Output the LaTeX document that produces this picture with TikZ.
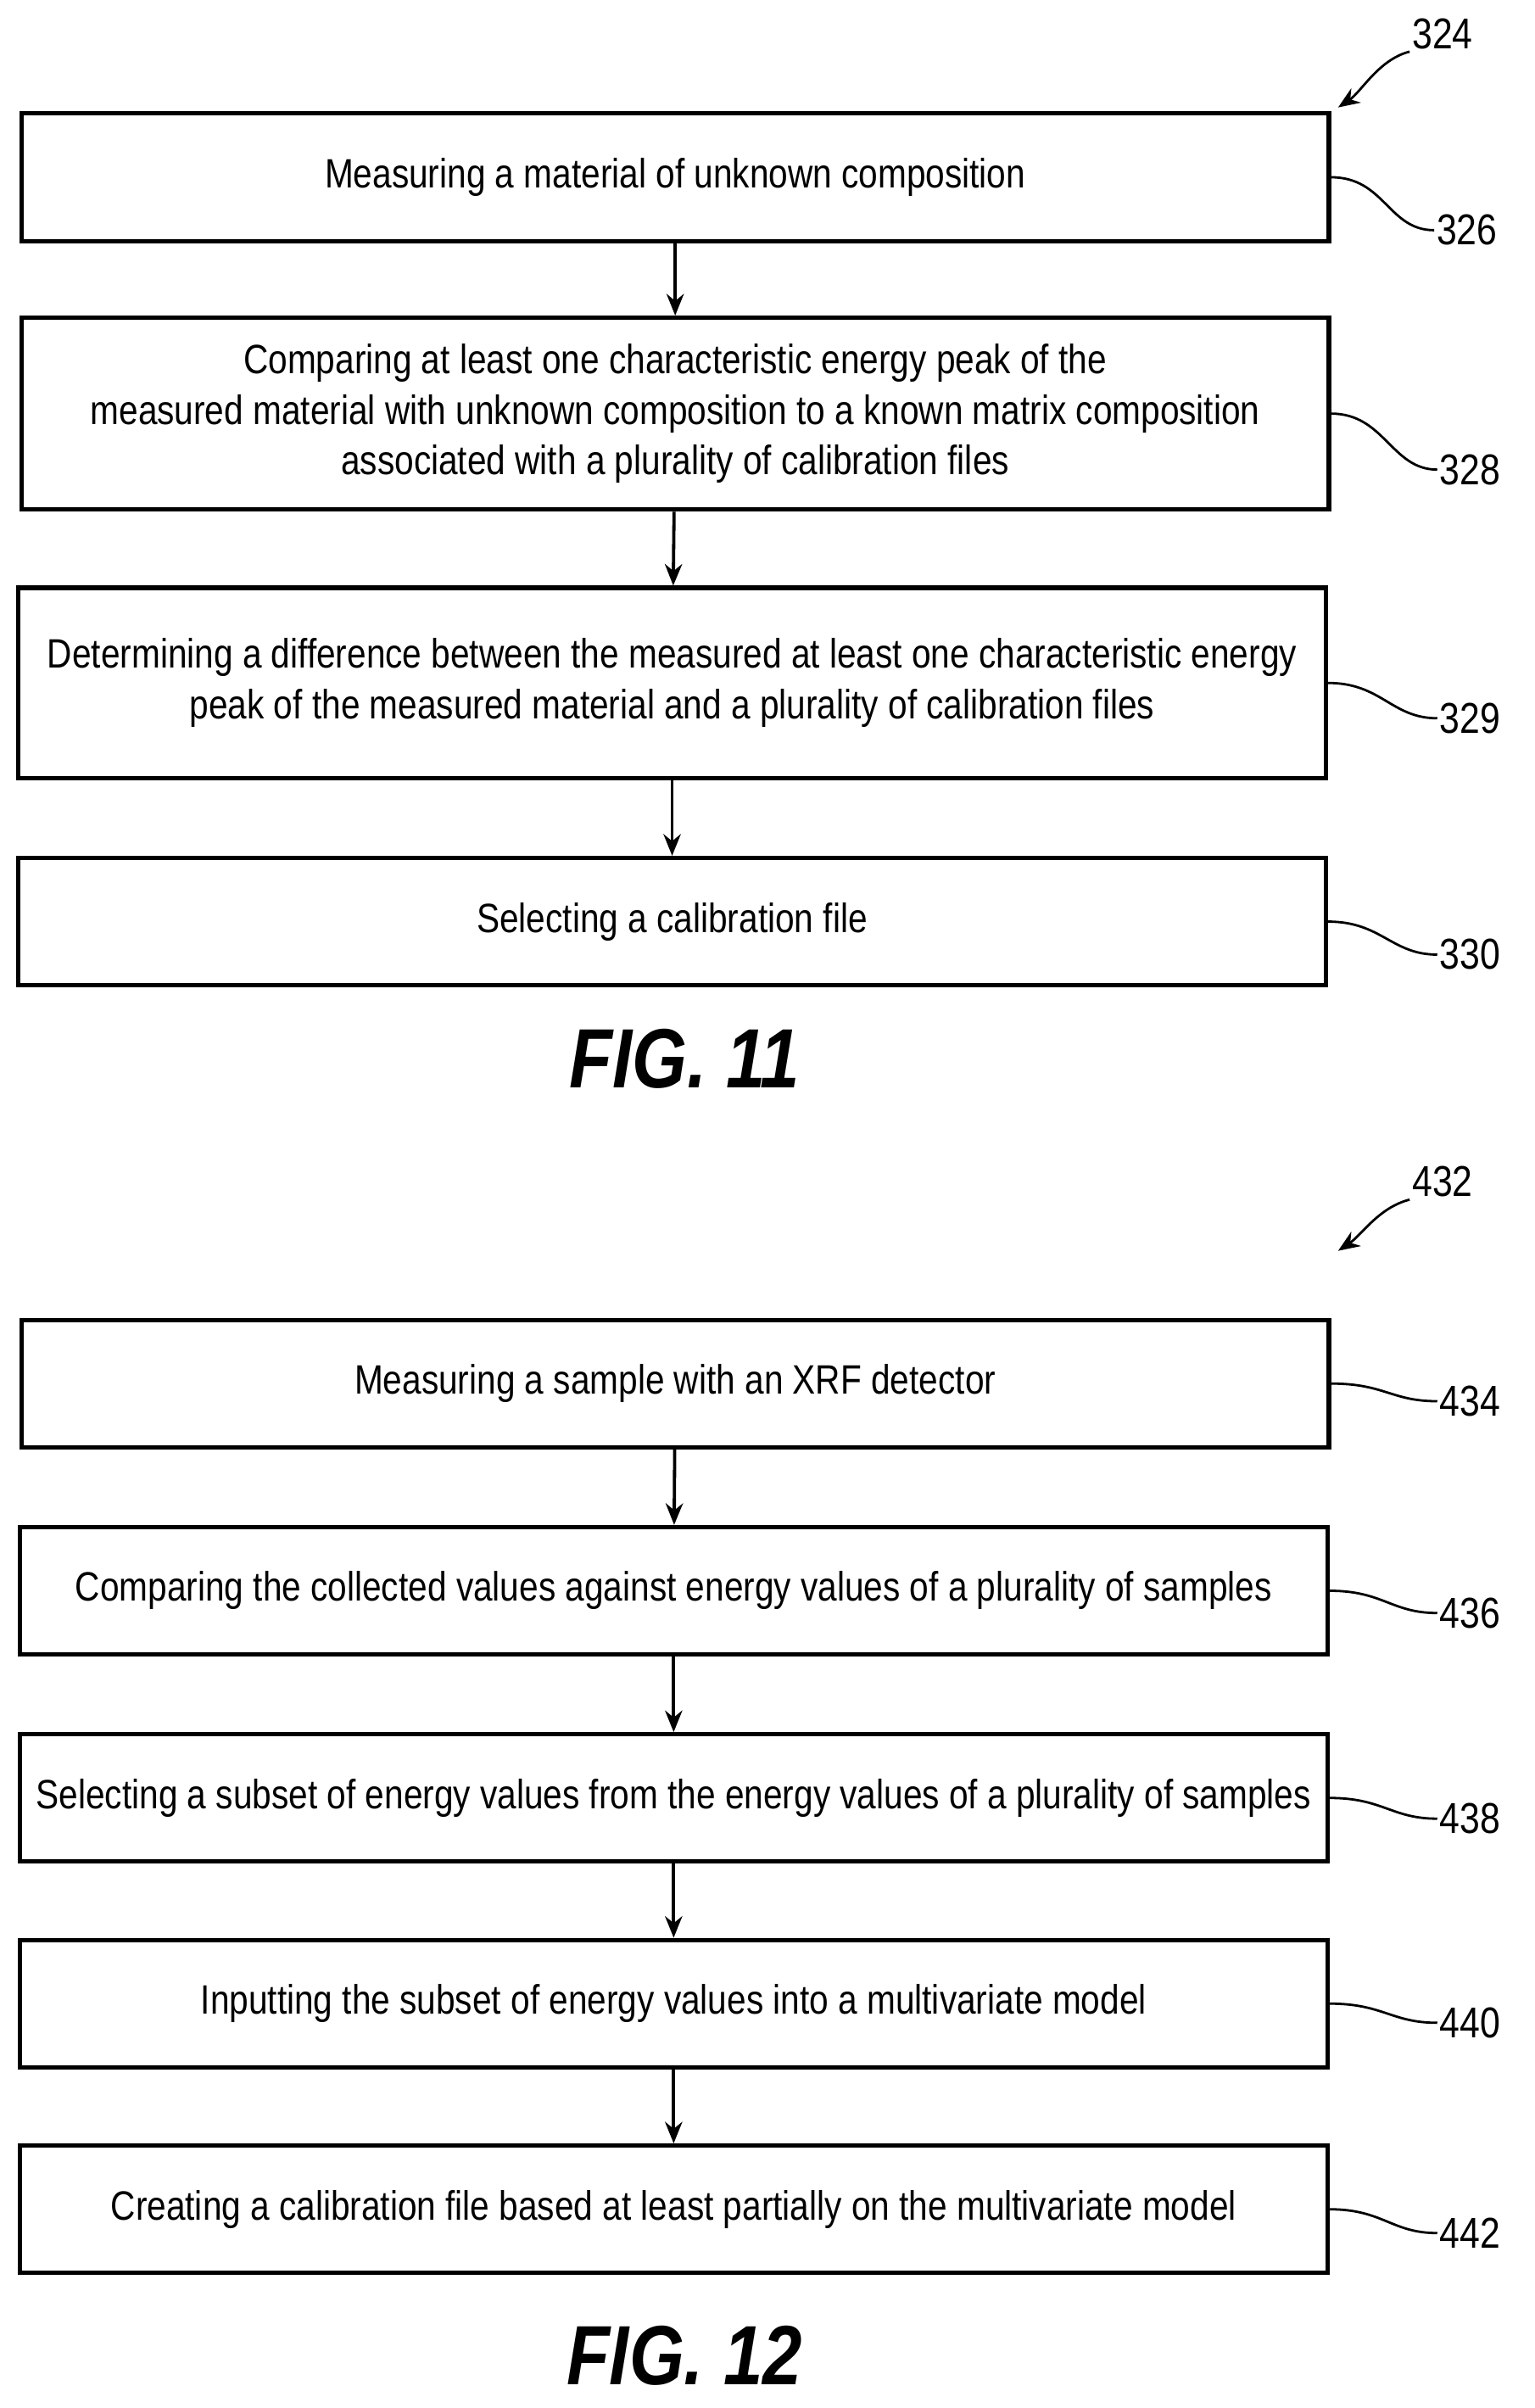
\documentclass[tikz,border=0pt]{standalone}
\usepackage{fontspec}
\setmainfont{Liberation Sans}[FakeStretch=0.84]
\usetikzlibrary{arrows.meta}
\begin{document}
\begin{tikzpicture}[x=0.025cm,y=-0.025cm,
    stage/.style={draw,line width=2pt,minimum width=852*0.025cm,inner sep=0pt,align=center,font=\fontsize{19}{23.5}\selectfont},
    num/.style={inner sep=1pt,font=\fontsize{20}{22}\selectfont},
    fig/.style={font=\fontsize{39}{44}\selectfont\itshape\bfseries},
    lead/.style={line width=1.1pt},
    flow/.style={line width=1.5pt,-{Stealth[length=10pt,width=8pt]}}]
\useasboundingbox (0,0) rectangle (1000,1569);
% FIG. 11
\node (b1) at (440,115.5) [stage,minimum height=83*0.025cm] {Measuring a material of unknown composition};
\node (b2) at (440,269.5) [stage,minimum height=125*0.025cm] {Comparing at least one characteristic energy peak of the\\measured material with unknown composition to a known matrix composition\\associated with a plurality of calibration files};
\node (b3) at (438,445) [stage,minimum height=124*0.025cm] {Determining a difference between the measured at least one characteristic energy\\peak of the measured material and a plurality of calibration files};
\node (b4) at (438,600.5) [stage,minimum height=83*0.025cm] {Selecting a calibration file};
\node (f11) at (446,690) [fig] {FIG. 11};
\node (n324) at (940,22) [num] {324};
\node (n326) at (956,150) [num] {326};
\node (n328) at (958,306) [num] {328};
\node (n329) at (958,468) [num] {329};
\node (n330) at (958,622) [num] {330};
\draw [flow] (b1) -- (b2);
\draw [flow] (b2) -- (b3);
\draw [flow] (b3) -- (b4);
\draw [lead] (b1.east) .. controls +(35,0) and +(-30,0) .. (n326.west);
\draw [lead] (b2.east) .. controls +(35,0) and +(-30,0) .. (n328.west);
\draw [lead] (b3.east) .. controls +(35,0) and +(-30,0) .. (n329.west);
\draw [lead] (b4.east) .. controls +(35,0) and +(-30,0) .. (n330.west);
\coordinate (t324) at (872,70);
\draw [lead,-{Stealth[length=10pt,width=8pt]}] (n324.south west) .. controls +(-20,5) and +(15,-10) .. (t324);
% FIG. 12
\node (c1) at (440,901.5) [stage,minimum height=83*0.025cm] {Measuring a sample with an XRF detector};
\node (c2) at (439,1036.5) [stage,minimum height=83*0.025cm] {Comparing the collected values against energy values of a plurality of samples};
\node (c3) at (439,1171.5) [stage,minimum height=83*0.025cm] {Selecting a subset of energy values from the energy values of a plurality of samples};
\node (c4) at (439,1305.5) [stage,minimum height=83*0.025cm] {Inputting the subset of energy values into a multivariate model};
\node (c5) at (439,1439.5) [stage,minimum height=83*0.025cm] {Creating a calibration file based at least partially on the multivariate model};
\node (f12) at (446,1535) [fig] {FIG. 12};
\node (n432) at (940,770) [num] {432};
\node (n434) at (958,913) [num] {434};
\node (n436) at (958,1051) [num] {436};
\node (n438) at (958,1185) [num] {438};
\node (n440) at (958,1318) [num] {440};
\node (n442) at (958,1455) [num] {442};
\draw [flow] (c1) -- (c2);
\draw [flow] (c2) -- (c3);
\draw [flow] (c3) -- (c4);
\draw [flow] (c4) -- (c5);
\draw [lead] (c1.east) .. controls +(35,0) and +(-30,0) .. (n434.west);
\draw [lead] (c2.east) .. controls +(35,0) and +(-30,0) .. (n436.west);
\draw [lead] (c3.east) .. controls +(35,0) and +(-30,0) .. (n438.west);
\draw [lead] (c4.east) .. controls +(35,0) and +(-30,0) .. (n440.west);
\draw [lead] (c5.east) .. controls +(35,0) and +(-30,0) .. (n442.west);
\coordinate (t432) at (872,815);
\draw [lead,-{Stealth[length=10pt,width=8pt]}] (n432.south west) .. controls +(-20,5) and +(15,-10) .. (t432);
\end{tikzpicture}
\end{document}
